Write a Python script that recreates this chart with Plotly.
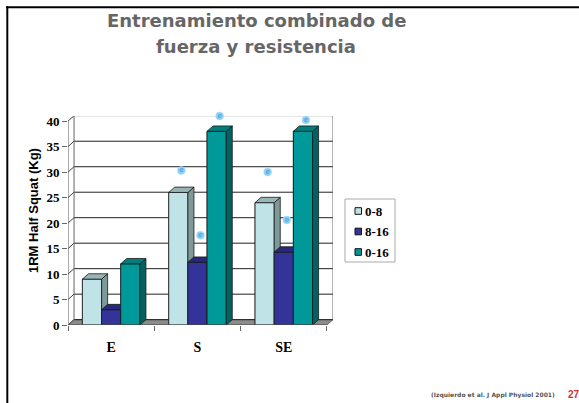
import plotly.graph_objects as go

# ---------------- data ----------------
categories = ["E", "S", "SE"]
series_names = ["0-8", "8-16", "0-16"]
val_08 = [9, 26, 24]
val_816 = [3, 12.3, 14.3]
val_016 = [12, 38, 38]
# significance ("e") markers
sig_08 = [None, 30.3, 30.0]
sig_816 = [None, 17.6, 20.6]
sig_016 = [None, 41.0, 40.2]
y_ticks = [0, 5, 10, 15, 20, 25, 30, 35, 40]
citation = "(Izquierdo et al. J Appl Physiol 2001)"
slide_no = "27"

series_vals = [val_08, val_816, val_016]
series_sig = [sig_08, sig_816, sig_016]

# ---------------- style ----------------
W_FIG, H_FIG = 579, 403
L, R, T, B = 68, 246, 116, 78
PW = W_FIG - L - R
PH = H_FIG - T - B
front_colors = ["#BFE3E6", "#333399", "#009999"]
side_colors = ["#7D9999", "#20206E", "#006262"]
top_colors = ["#97B5B5", "#28287F", "#007D7D"]
bar_w = 0.222
ddx = 0.07   # depth offset (x data units)
ddy = 1.05   # depth offset (y data units)
xmin, xmax = -0.5, 2.5
ymax = 41.0
serif = "Liberation Serif"


def px2x(p):
    return (p - L) / PW


def py2y(p):
    return (H_FIG - B - p) / PH


fig = go.Figure()

# semantic bars (fronts); faces redrawn below in painter order
for i, name in enumerate(series_names):
    fig.add_trace(go.Bar(
        x=[g + (i - 1) * bar_w for g in range(len(categories))],
        y=series_vals[i], width=bar_w, name=name,
        marker=dict(color=front_colors[i], line=dict(color="#1a1a1a", width=0.8)),
        showlegend=False, hoverinfo="skip"))


def poly(xs, ys, color):
    fig.add_trace(go.Scatter(
        x=xs + [xs[0]], y=ys + [ys[0]], mode="lines", fill="toself",
        fillcolor=color, line=dict(color="#1a1a1a", width=0.8),
        hoverinfo="skip", showlegend=False))


for g in range(len(categories)):
    for i in range(len(series_names)):
        v = series_vals[i][g]
        xl = g + (i - 1) * bar_w - bar_w / 2
        xr = xl + bar_w
        poly([xl, xr, xr, xl], [0, 0, v, v], front_colors[i])
        poly([xr, xr + ddx, xr + ddx, xr], [0, ddy, v + ddy, v], side_colors[i])
        poly([xl, xr, xr + ddx, xl + ddx], [v, v, v + ddy, v + ddy], top_colors[i])

# significance markers
for i in range(len(series_names)):
    xs, ys = [], []
    for g in range(len(categories)):
        if series_sig[i][g] is not None:
            xs.append(g + (i - 1) * bar_w + ddx / 2)
            ys.append(series_sig[i][g])
    fig.add_trace(go.Scatter(
        x=xs, y=ys, mode="markers+text", text=["e"] * len(xs),
        textposition="middle center",
        textfont=dict(size=7, color="#3A9AD8", family="DejaVu Sans"),
        marker=dict(size=8, color="#8ED0F4", line=dict(color="#B8E0F8", width=0.5)),
        cliponaxis=False, hoverinfo="skip", showlegend=False))

shapes = []
# floor
shapes.append(dict(type="path", xref="x", yref="y", layer="below",
                   path=f"M{xmin},0 L{xmax},0 L{xmax+ddx},{ddy} L{xmin+ddx},{ddy} Z",
                   fillcolor="#8C8C8C", line=dict(color="#555555", width=0.8)))
# back wall gridlines + side wall diagonals
for v in y_ticks:
    col = "#9A9A9A" if v == y_ticks[-1] else "#222222"
    shapes.append(dict(type="line", xref="x", yref="y", layer="below",
                       x0=xmin + ddx, x1=xmax + ddx, y0=v + ddy, y1=v + ddy,
                       line=dict(color=col, width=1)))
    shapes.append(dict(type="line", xref="x", yref="y", layer="below",
                       x0=xmin, x1=xmin + ddx, y0=v, y1=v + ddy,
                       line=dict(color="#444444", width=1)))
# back wall verticals
for xv in [xmin + ddx, xmax + ddx]:
    shapes.append(dict(type="line", xref="x", yref="y", layer="below",
                       x0=xv, x1=xv, y0=ddy, y1=y_ticks[-1] + ddy,
                       line=dict(color="#666666", width=1)))
# front axes
shapes.append(dict(type="line", xref="x", yref="y", layer="below",
                   x0=xmin, x1=xmin, y0=0, y1=y_ticks[-1],
                   line=dict(color="#555555", width=1)))
shapes.append(dict(type="line", xref="x", yref="y", layer="above",
                   x0=xmin, x1=xmax, y0=0, y1=0,
                   line=dict(color="#555555", width=1)))

# manual legend
lg_x0, lg_x1, lg_y0, lg_y1 = 345, 395, 199, 262
shapes.append(dict(type="rect", xref="paper", yref="paper",
                   x0=px2x(lg_x0), x1=px2x(lg_x1), y0=py2y(lg_y1), y1=py2y(lg_y0),
                   line=dict(color="#AAAAAA", width=1), fillcolor="white"))
annotations = []
lg_rows = [211, 231.5, 252]
for i, name in enumerate(series_names):
    yc = lg_rows[i]
    shapes.append(dict(type="rect", xref="paper", yref="paper",
                       x0=px2x(355), x1=px2x(361.5), y0=py2y(yc + 3.3), y1=py2y(yc - 3.3),
                       fillcolor=front_colors[i], line=dict(color="#111111", width=1)))
    annotations.append(dict(xref="paper", yref="paper", x=px2x(362.5), y=py2y(yc),
                            xanchor="left", yanchor="middle", showarrow=False,
                            text=f"<b>{name}</b>",
                            font=dict(family=serif, size=13, color="black")))

# slide border
shapes.append(dict(type="line", xref="paper", yref="paper",
                   x0=px2x(6), x1=px2x(579), y0=py2y(7.3), y1=py2y(7.3),
                   line=dict(color="black", width=2)))
shapes.append(dict(type="line", xref="paper", yref="paper",
                   x0=px2x(7.3), x1=px2x(7.3), y0=py2y(6.3), y1=py2y(403),
                   line=dict(color="black", width=2)))

# title lines
annotations.append(dict(xref="paper", yref="paper", x=px2x(256), y=py2y(20),
                        xanchor="center", yanchor="middle", showarrow=False,
                        text="<b>Entrenamiento combinado de</b>",
                        font=dict(family="DejaVu Sans", size=18, color="#666666")))
annotations.append(dict(xref="paper", yref="paper", x=px2x(256), y=py2y(46),
                        xanchor="center", yanchor="middle", showarrow=False,
                        text="<b>fuerza y resistencia</b>",
                        font=dict(family="DejaVu Sans", size=18, color="#666666")))
# y axis title
annotations.append(dict(xref="paper", yref="paper", x=px2x(33), y=py2y(211),
                        xanchor="center", yanchor="middle", showarrow=False,
                        textangle=-90, text="<b>1RM Half Squat (Kg)</b>",
                        font=dict(family="Liberation Sans", size=13, color="black")))
# citation + slide number
annotations.append(dict(xref="paper", yref="paper", x=px2x(557), y=py2y(395),
                        xanchor="right", yanchor="middle", showarrow=False,
                        text=f"<b>{citation}</b>",
                        font=dict(family="DejaVu Sans", size=6, color="#555555")))
annotations.append(dict(xref="paper", yref="paper", x=px2x(565.5), y=py2y(394),
                        xanchor="left", yanchor="middle", showarrow=False,
                        text=f"<b>{slide_no}</b>",
                        font=dict(family="Liberation Sans", size=10, color="#CC3333")))

fig.update_layout(
    width=W_FIG, height=H_FIG,
    margin=dict(l=L, r=R, t=T, b=B, pad=0),
    paper_bgcolor="white", plot_bgcolor="white",
    barmode="overlay", showlegend=False,
    shapes=shapes, annotations=annotations,
    xaxis=dict(range=[xmin, xmax + ddx], showgrid=False, zeroline=False, showline=False,
               tickmode="array", tickvals=list(range(len(categories))),
               ticktext=[f"<b>{c}</b>" for c in categories],
               ticks="", ticklabelstandoff=12,
               tickfont=dict(family=serif, size=14, color="black"),
               minor=dict(tickmode="array", tickvals=[-0.5, 0.5, 1.5, 2.5],
                          ticks="outside", ticklen=5, tickcolor="#666666", showgrid=False),
               fixedrange=True),
    yaxis=dict(range=[0, ymax], showgrid=False, zeroline=False, showline=False,
               tickmode="array", tickvals=y_ticks,
               ticktext=[f"<b>{t}</b>" for t in y_ticks],
               ticks="outside", ticklen=5, tickcolor="#666666",
               tickfont=dict(family=serif, size=13, color="black"),
               fixedrange=True),
)

fig.write_html("out.html")
